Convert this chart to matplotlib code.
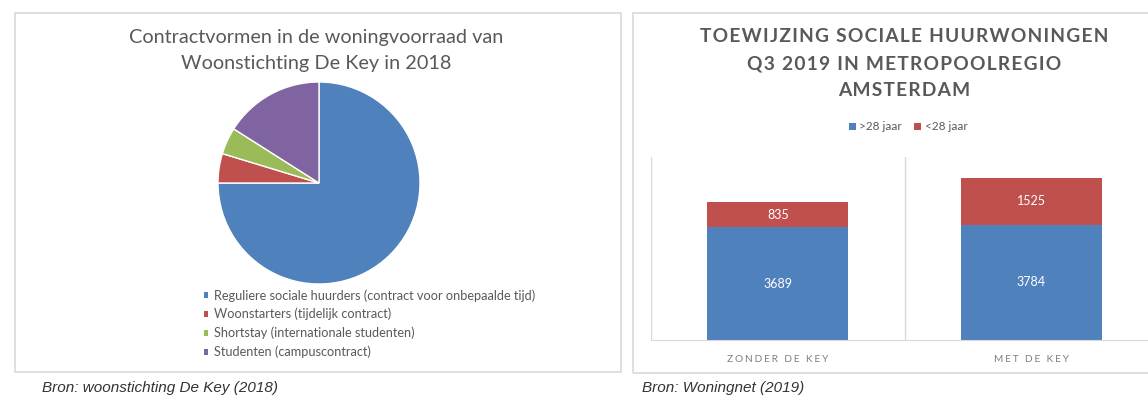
import matplotlib.pyplot as plt
from matplotlib.patches import Rectangle, Patch

# pie data (share of housing stock, %)
pie_labels = ['Reguliere sociale huurders (contract voor onbepaalde tijd)',
              'Woonstarters (tijdelijk contract)',
              'Shortstay (internationale studenten)',
              'Studenten (campuscontract)']
pie_values = [75.0, 4.7, 4.3, 16.0]
pie_colors = ['#4f81bd', '#c0504d', '#9bbb59', '#8064a2']

# stacked bar data
bar_categories = ['ZONDER DE KEY', 'MET DE KEY']
older = [3689, 3784]
younger = [835, 1525]
bar_series = ['>28 jaar', '<28 jaar']

W, H = 1148, 395
GRAY = '#595959'
LINE = '#d9d9d9'


def spaced(s, sep='\u200a'):
    return sep.join(s)


def fx(px):
    return px / W


def fy(py):
    return 1 - py / H


fig = plt.figure(figsize=(W / 100, H / 100), dpi=100)

# panel frames
fig.patches.append(Rectangle((fx(15), fy(372)), fx(621 - 15), (372 - 13) / H,
                             transform=fig.transFigure, fill=False, ec=LINE, lw=1.2))
fig.patches.append(Rectangle((fx(633), fy(373)), fx(1160 - 633), (373 - 13) / H,
                             transform=fig.transFigure, fill=False, ec=LINE, lw=1.2))

# ---- pie ----
ax1 = fig.add_axes([fx(218), fy(284), fx(202), 202 / H])
ax1.pie(pie_values, colors=pie_colors, startangle=90, counterclock=False,
        wedgeprops={'edgecolor': 'white', 'linewidth': 1})
ax1.set_xlim(-1, 1)
ax1.set_ylim(-1, 1)

fig.text(fx(316), fy(37), 'Contractvormen in de woningvoorraad van',
         ha='center', va='center', fontsize=14.3, family='Lato', color=GRAY)
fig.text(fx(316), fy(64), 'Woonstichting De Key in 2018',
         ha='center', va='center', fontsize=14.3, family='Lato', color=GRAY)

handles = [Patch(facecolor=c, edgecolor='none') for c in pie_colors]
fig.legend(handles, pie_labels, loc='upper left', bbox_to_anchor=(fx(204), fy(289)),
           frameon=False, labelcolor=GRAY, handlelength=0.3,
           handleheight=0.3, handletextpad=0.45, labelspacing=0.5,
           borderaxespad=0, borderpad=0, prop={'family': 'Lato', 'size': 9.2})

# ---- stacked bars ----
ax2 = fig.add_axes([fx(651), fy(340), fx(1148 - 651), (340 - 157) / H])
x = range(len(bar_categories))
ax2.bar(x, older, width=0.555, color='#4f81bd', label=bar_series[0])
ax2.bar(x, younger, bottom=older, width=0.555, color='#c0504d', label=bar_series[1])
for i in x:
    ax2.text(i, older[i] / 2, str(older[i]), ha='center', va='center',
             color='white', fontsize=9, family='Lato')
    ax2.text(i, older[i] + younger[i] / 2, str(younger[i]), ha='center', va='center',
             color='white', fontsize=9, family='Lato')
ax2.set_xlim(-0.5, 1.46)
ax2.set_ylim(0, 6000)
for xv in [-0.5, 0.5, 1.5]:
    ax2.axvline(xv, color=LINE, lw=1, zorder=0)
for s in ['top', 'right', 'left']:
    ax2.spines[s].set_visible(False)
ax2.spines['bottom'].set_color(LINE)
ax2.set_yticks([])
ax2.set_xticks(list(x))
ax2.set_xticklabels([spaced(c, '\u2009\u200a') for c in bar_categories],
                    fontsize=7.3, color='#7f7f7f', family='Lato')
ax2.tick_params(axis='x', length=0, pad=11)

for i, line in enumerate(['TOEWIJZING SOCIALE HUURWONINGEN', 'Q3 2019 IN METROPOOLREGIO', 'AMSTERDAM']):
    fig.text(fx(904), fy(37 + 26.5 * i), spaced(line), ha='center', va='center',
             fontsize=13.8, family='Lato', weight='bold', color=GRAY)

fig.legend(loc='center', bbox_to_anchor=(fx(908), fy(127)), ncol=2, frameon=False,
           handlelength=0.6, handleheight=0.6, handletextpad=0.3, columnspacing=1.0,
           prop={'family': 'Lato', 'size': 8.5}, labelcolor=GRAY)

# sources
fig.text(fx(42), fy(388), 'Bron: woonstichting De Key (2018)', ha='left', va='center',
         fontsize=11, style='italic', family='Liberation Sans', color='#333333')
fig.text(fx(642), fy(388), 'Bron: Woningnet (2019)', ha='left', va='center',
         fontsize=11, style='italic', family='Liberation Sans', color='#333333')

fig.savefig('out.png', dpi=100)
